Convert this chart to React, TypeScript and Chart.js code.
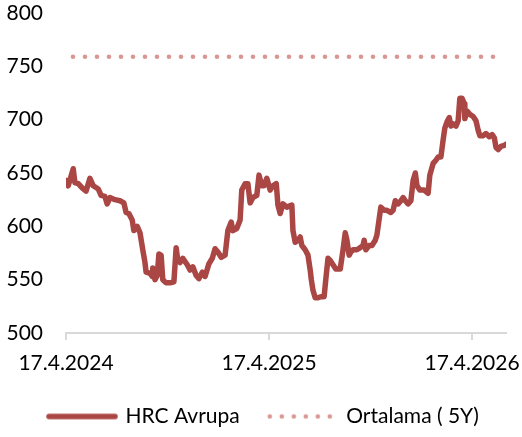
import React, { useEffect, useRef } from "react";
import { Chart, registerables } from "chart.js";

Chart.register(...registerables);

// Days counted from 17.4.2024
const dayOffsets = [
  0, 4, 13, 16, 22, 29, 36, 43, 49, 58, 63, 70, 74, 79, 88, 97, 104, 108, 113, 119,
  122, 128, 133, 138, 142, 144, 151, 155, 156, 160, 164, 167, 171, 174, 180, 187, 194, 198, 201, 205,
  210, 218, 223, 228, 234, 239, 245, 250, 257, 263, 268, 273, 279, 286, 291, 297, 300, 307, 313, 316,
  322, 327, 331, 336, 343, 347, 352, 356, 361, 367, 372, 378, 381, 385, 390, 397, 406, 408, 412, 417,
  421, 424, 430, 435, 439, 441, 444, 448, 453, 458, 464, 467, 471, 475, 480, 485, 493, 498, 502, 505,
  509, 512, 516, 523, 529, 534, 536, 539, 545, 550, 556, 559, 563, 566, 572, 577, 584, 588, 592, 597,
  602, 606, 610, 615, 620, 624, 628, 631, 636, 644, 651, 654, 660, 665, 669, 674, 678, 681, 685, 689,
  692, 696, 701, 705, 708, 712, 716, 717, 721, 726, 732, 737, 741, 744, 750, 755, 761, 766, 770, 773,
  777, 782, 788, 791,
];

const hrcValues = [
  643, 638, 654, 641, 640, 636, 633, 645, 638, 635, 629, 628, 621, 627, 625, 624, 622, 613, 612, 606,
  596, 600, 594, 578, 566, 557, 556, 553, 561, 550, 554, 574, 573, 550, 547, 547, 548, 580, 568, 566,
  570, 564, 559, 562, 554, 551, 557, 553, 565, 570, 579, 576, 571, 573, 596, 604, 596, 598, 606, 634,
  640, 640, 622, 627, 629, 648, 638, 638, 645, 634, 638, 640, 620, 612, 621, 618, 620, 596, 585, 587,
  590, 582, 578, 573, 559, 550, 540, 533, 533, 534, 534, 550, 570, 568, 564, 560, 560, 578, 594, 587,
  573, 576, 578, 578, 580, 582, 587, 578, 582, 582, 587, 592, 607, 618, 615, 615, 613, 615, 624, 621,
  624, 627, 624, 621, 624, 643, 650, 638, 634, 634, 631, 648, 659, 662, 665, 665, 681, 692, 698, 702,
  694, 696, 694, 699, 720, 720, 715, 701, 708, 705, 703, 699, 690, 685, 685, 687, 684, 686, 683, 674,
  672, 675, 676, 677,
];

const averageValue = 759;
const averageSpan = [0, 770];

const tickDays = [0, 365, 730];
const tickLabels = ["17.4.2024", "17.4.2025", "17.4.2026"];

const seriesNames = ["HRC Avrupa", "Ortalama ( 5Y)"];
const seriesColors = ["#AA4644", "#D99694"];

const legendShift = {
  id: "legendShift",
  afterLayout(chart: any) {
    const lg = chart.legend;
    if (lg) {
      lg.left += 3;
      lg.right += 3;
    }
  },
};

function makeLineSample(color: string) {
  const c = document.createElement("canvas");
  c.width = 72;
  c.height = 10;
  const ctx = c.getContext("2d")!;
  ctx.strokeStyle = color;
  ctx.lineWidth = 5.5;
  ctx.lineCap = "round";
  ctx.beginPath();
  ctx.moveTo(3, 5);
  ctx.lineTo(69, 5);
  ctx.stroke();
  return c;
}

function makeDotSample(color: string) {
  const c = document.createElement("canvas");
  c.width = 72;
  c.height = 10;
  const ctx = c.getContext("2d")!;
  ctx.fillStyle = color;
  for (let i = 0; i < 6; i++) {
    ctx.beginPath();
    ctx.arc(3 + i * 12, 5, 2.3, 0, Math.PI * 2);
    ctx.fill();
  }
  return c;
}

export default function App() {
  const canvasRef = useRef<HTMLCanvasElement | null>(null);

  useEffect(() => {
    document.body.style.margin = "0";
    const canvas = canvasRef.current;
    if (!canvas) return;

    Chart.defaults.font.family = "Lato";
    Chart.defaults.font.size = 21;
    Chart.defaults.color = "#000000";

    const samples = [makeLineSample(seriesColors[0]), makeDotSample(seriesColors[1])];

    const chart = new Chart(canvas, {
      type: "line",
      plugins: [legendShift],
      data: {
        datasets: [
          {
            label: seriesNames[0],
            data: dayOffsets.map((d, i) => ({ x: d, y: hrcValues[i] })),
            borderColor: seriesColors[0],
            backgroundColor: seriesColors[0],
            borderWidth: 5.5,
            borderCapStyle: "round",
            borderJoinStyle: "round",
            pointRadius: 0,
            pointHoverRadius: 0,
            tension: 0,
          },
          {
            label: seriesNames[1],
            data: averageSpan.map((d) => ({ x: d, y: averageValue })),
            borderColor: seriesColors[1],
            backgroundColor: seriesColors[1],
            borderWidth: 4.6,
            borderCapStyle: "round",
            borderDash: [0, 12],
            borderDashOffset: 5,
            pointRadius: 0,
            pointHoverRadius: 0,
            tension: 0,
          },
        ],
      },
      options: {
        animation: false,
        responsive: true,
        maintainAspectRatio: false,
        layout: { padding: { left: 0, right: 0, top: 13, bottom: 0 } },
        plugins: {
          tooltip: { enabled: false },
          legend: {
            position: "bottom",
            maxHeight: 61,
            labels: {
              usePointStyle: true,
              pointStyleWidth: 66,
              padding: 30,
              color: "#000000",
              font: { family: "Lato", size: 21 },
              generateLabels: (c: any) =>
                Chart.defaults.plugins.legend.labels
                  .generateLabels(c)
                  .map((l: any, i: number) => ({ ...l, pointStyle: samples[i] })),
            },
          },
        },
        scales: {
          x: {
            type: "linear",
            min: 0,
            max: 791,
            afterBuildTicks: (scale: any) => {
              scale.ticks = tickDays.map((v) => ({ value: v }));
            },
            afterFit: (scale: any) => {
              scale.height = 43;
              scale.paddingLeft = 0;
              scale.paddingRight = 16;
            },
            grid: {
              display: true,
              drawOnChartArea: false,
              drawTicks: true,
              tickLength: 7,
              color: "#D9D9D9",
              lineWidth: 2,
            },
            border: { display: true, color: "#D9D9D9", width: 2 },
            ticks: {
              padding: 11,
              maxRotation: 0,
              autoSkip: false,
              color: "#000000",
              font: { family: "Lato", size: 21 },
              callback: (value: any) => {
                const i = tickDays.indexOf(Number(value));
                return i >= 0 ? tickLabels[i] : "";
              },
            },
          },
          y: {
            type: "linear",
            min: 500,
            max: 800,
            afterFit: (scale: any) => {
              scale.width = 66;
              scale.paddingTop = 0;
              scale.paddingBottom = 0;
            },
            grid: { display: false, drawTicks: false },
            border: { display: false },
            ticks: {
              stepSize: 50,
              padding: 23,
              color: "#000000",
              font: { family: "Lato", size: 21 },
            },
          },
        },
      },
    });

    return () => {
      chart.destroy();
    };
  }, []);

  return (
    <div style={{ position: "relative", width: "522px", height: "437px" }}>
      <canvas ref={canvasRef} />
    </div>
  );
}
